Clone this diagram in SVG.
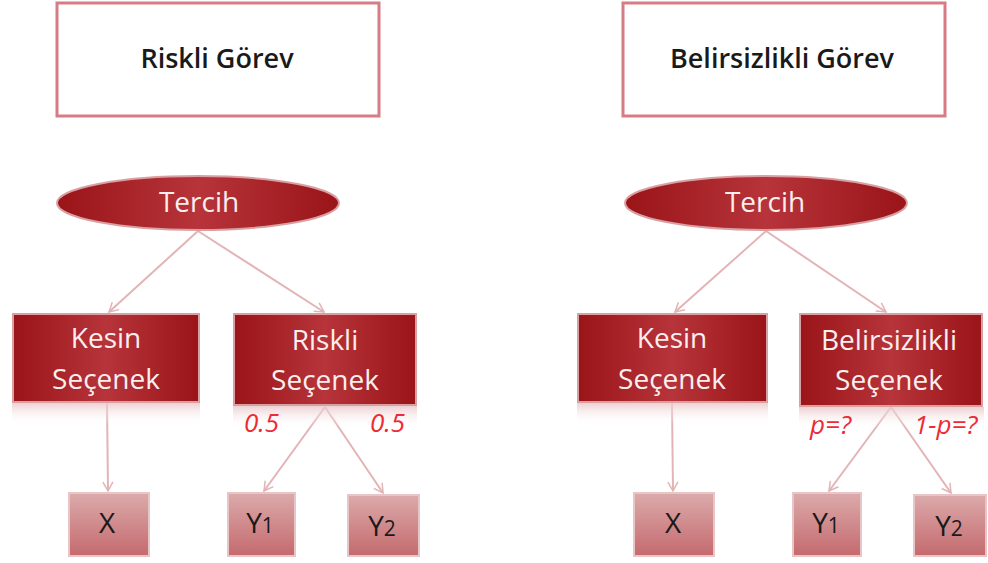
<svg xmlns="http://www.w3.org/2000/svg" width="988" height="563" viewBox="0 0 988 563">
<defs>
<linearGradient id="dark" x1="0" y1="0" x2="1" y2="0">
<stop offset="0" stop-color="#9a1418"/>
<stop offset="0.5" stop-color="#b6343a"/>
<stop offset="1" stop-color="#9a1418"/>
</linearGradient>
<linearGradient id="leaf" x1="0" y1="0" x2="0" y2="1">
<stop offset="0" stop-color="#dcaaab"/>
<stop offset="1" stop-color="#c46a6d"/>
</linearGradient>
<linearGradient id="refl" x1="0" y1="0" x2="0" y2="1">
<stop offset="0" stop-color="#e9c6c8" stop-opacity="0.8"/>
<stop offset="1" stop-color="#ffffff" stop-opacity="0"/>
</linearGradient>
<marker id="arr" viewBox="0 0 12 12" refX="10" refY="6" markerWidth="12" markerHeight="12" markerUnits="userSpaceOnUse" orient="auto">
<path d="M1,1 L10,6 L1,11" fill="none" stroke="#e2b4b6" stroke-width="1.5"/>
</marker>
</defs>
<style>
.title{fill:#fff;stroke:#d57c85;stroke-width:3}
.tt{font-family:"Open Sans","Liberation Sans",sans-serif;font-size:27px;font-weight:600;fill:#1a1a1a;text-anchor:middle}
.dk{fill:url(#dark);stroke:#d9a0a3;stroke-width:2}
.wt{font-family:"Open Sans","Liberation Sans",sans-serif;font-size:28px;fill:#fbeeee;text-anchor:middle}
.lf{fill:url(#leaf);stroke:#e8c6c7;stroke-width:2}
.bt{font-family:"Open Sans","Liberation Sans",sans-serif;font-size:28px;fill:#1a1a1a;text-anchor:middle}
.pr{font-family:"Open Sans","Liberation Sans",sans-serif;font-size:26px;font-style:italic;fill:#ee2a35}
.rf{fill:url(#refl)}
.cn{stroke:#e2b4b6;stroke-width:2;fill:none;marker-end:url(#arr)}
</style>
<g id="connectors">
<line class="cn" x1="198" y1="231" x2="109" y2="312"/>
<line class="cn" x1="198" y1="231" x2="324" y2="312"/>
<line class="cn" x1="107" y1="403" x2="108" y2="491"/>
<line class="cn" x1="325" y1="407" x2="264" y2="491"/>
<line class="cn" x1="325" y1="407" x2="383" y2="493"/>
<line class="cn" x1="766" y1="231" x2="675" y2="312"/>
<line class="cn" x1="766" y1="231" x2="886" y2="312"/>
<line class="cn" x1="672" y1="403" x2="673" y2="491"/>
<line class="cn" x1="891" y1="407" x2="829" y2="491"/>
<line class="cn" x1="891" y1="407" x2="951" y2="493"/>
</g>
<g id="riskli-gorev">
<rect class="title" x="57" y="3" width="322" height="113"/>
<text class="tt" x="217" y="68">Riskli Görev</text>
</g>
<g id="belirsizlikli-gorev">
<rect class="title" x="623" y="3" width="322" height="113"/>
<text class="tt" x="782" y="68">Belirsizlikli Görev</text>
</g>
<g id="tercih-left">
<ellipse class="dk" cx="198" cy="203" rx="141" ry="27"/>
<text class="wt" x="199" y="212">Tercih</text>
</g>
<g id="tercih-right">
<ellipse class="dk" cx="766" cy="203" rx="141" ry="27"/>
<text class="wt" x="765" y="212">Tercih</text>
</g>
<g id="kesin-left">
<rect class="rf" x="12" y="403" width="188" height="22"/>
<rect class="dk" x="13" y="314" width="186" height="88"/>
<text class="wt" x="106" y="348">Kesin</text>
<text class="wt" x="106" y="389">Seçenek</text>
</g>
<g id="riskli-secenek">
<rect class="rf" x="233" y="406" width="184" height="22"/>
<rect class="dk" x="234" y="314" width="182" height="91"/>
<text class="wt" x="325" y="350">Riskli</text>
<text class="wt" x="325" y="390">Seçenek</text>
<text class="pr" x="244" y="432">0.5</text>
<text class="pr" x="370" y="432">0.5</text>
</g>
<g id="kesin-right">
<rect class="rf" x="577" y="403" width="191" height="22"/>
<rect class="dk" x="578" y="314" width="189" height="88"/>
<text class="wt" x="672" y="348">Kesin</text>
<text class="wt" x="672" y="389">Seçenek</text>
</g>
<g id="belirsizlikli-secenek">
<rect class="rf" x="799" y="407" width="185" height="22"/>
<rect class="dk" x="800" y="314" width="182" height="92"/>
<text class="wt" x="889" y="350">Belirsizlikli</text>
<text class="wt" x="889" y="390">Seçenek</text>
<text class="pr" x="810" y="434">p=?</text>
<text class="pr" x="914" y="434">1-p=?</text>
</g>
<g id="x-left">
<rect class="lf" x="69" y="493" width="80" height="63"/>
<text class="bt" x="107" y="533">X</text>
</g>
<g id="y1-left">
<rect class="lf" x="228" y="493" width="67" height="63"/>
<text class="bt" x="260" y="533">Y<tspan font-size="21">1</tspan></text>
</g>
<g id="y2-left">
<rect class="lf" x="348" y="495" width="71" height="61"/>
<text class="bt" x="382" y="536">Y<tspan font-size="21">2</tspan></text>
</g>
<g id="x-right">
<rect class="lf" x="634" y="493" width="80" height="63"/>
<text class="bt" x="673" y="533">X</text>
</g>
<g id="y1-right">
<rect class="lf" x="793" y="493" width="68" height="63"/>
<text class="bt" x="826" y="533">Y<tspan font-size="21">1</tspan></text>
</g>
<g id="y2-right">
<rect class="lf" x="914" y="495" width="72" height="61"/>
<text class="bt" x="949" y="536">Y<tspan font-size="21">2</tspan></text>
</g>
</svg>
